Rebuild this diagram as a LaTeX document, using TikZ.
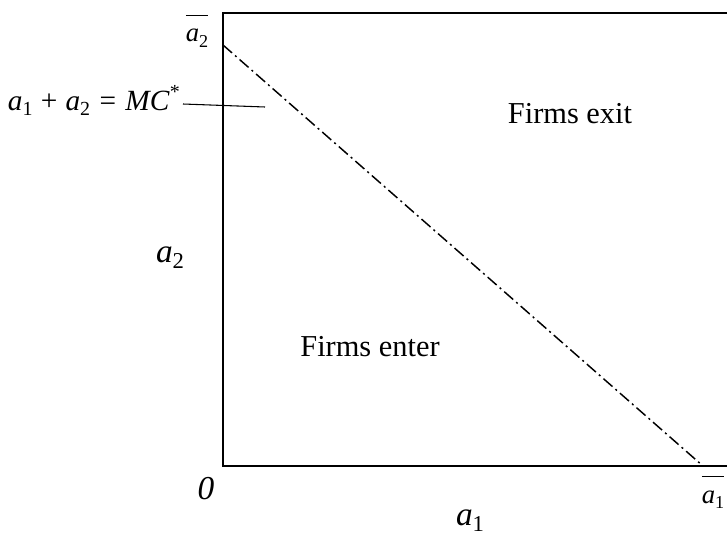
\documentclass[tikz,border=0pt]{standalone}
\usepackage{fontspec}
\setmainfont{Liberation Serif}
\newcommand\lsub[1]{\raisebox{-0.42ex}{\scalebox{0.68}{#1}}}
\newcommand\lsup[1]{\raisebox{0.85ex}{\scalebox{0.68}{#1}}}
\begin{document}
\begin{tikzpicture}[x=0.75pt,y=-0.75pt,
  axisline/.style={line width=1.7pt, line cap=rect},
  boundary/.style={line width=1.1pt, dash pattern=on 9pt off 3pt on 1.5pt off 3pt},
  leader/.style={line width=0.8pt},
  region/.style={font=\fontsize{22.8}{27}\selectfont, inner sep=0pt, anchor=base},
  mathlbl/.style={font=\fontsize{25}{30}\selectfont, inner sep=0pt, anchor=base}]
\useasboundingbox (0,0) rectangle (727,535);
\coordinate (T) at (223,13);
\coordinate (TR) at (727,13);
\coordinate (O) at (223,466);
\coordinate (BR) at (727,466);
\coordinate (A2) at (223,45);
\coordinate (A1) at (703,466);
\coordinate (L1) at (183,104);
\coordinate (L2) at (265,107);
\draw[axisline] (TR) -- (T) -- (O) -- (BR);
\draw[boundary] (A2) -- (A1);
\draw[leader] (L1) -- (L2);
\node[region] (exit) at (570,123) {Firms exit};
\node[region] (enter) at (370,356) {Firms enter};
\node[mathlbl, font=\fontsize{22}{26}\selectfont, anchor=base east] (eq) at (180,110) {\textit{a}\lsub{1}\hspace{0.28em}+\hspace{0.28em}\textit{a}\lsub{2}\hspace{0.32em}=\hspace{0.32em}\textit{MC}\lsup{*}};
\node[mathlbl] (a2) at (170,262) {\textit{a}\lsub{2}};
\node[mathlbl] (a1) at (470,525) {\textit{a}\lsub{1}};
\node[mathlbl] (zero) at (206,499) {\textit{0}};
\node[mathlbl, font=\fontsize{20}{24}\selectfont] (a2bar) at (197,42) {$\overline{\mbox{\rule{0pt}{0.95em}\textit{a}\lsub{2}}}$};
\node[mathlbl, font=\fontsize{20}{24}\selectfont] (a1bar) at (713,503) {$\overline{\mbox{\rule{0pt}{0.95em}\textit{a}\lsub{1}}}$};
\end{tikzpicture}
\end{document}
